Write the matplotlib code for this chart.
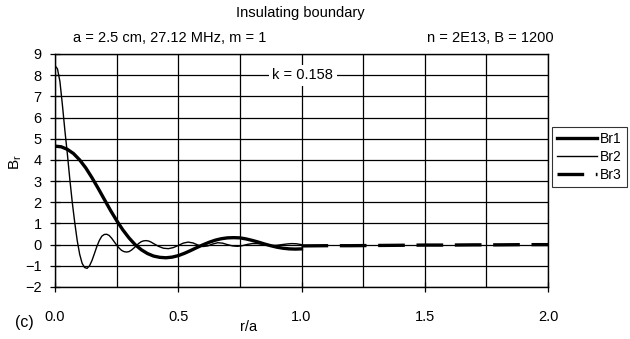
import matplotlib.pyplot as plt
import numpy as np

plt.rcParams['font.family'] = ['Liberation Sans', 'DejaVu Sans']

# Br1 (thick), r/a from 0 to 1
r1 = [0.000, 0.025, 0.050, 0.075, 0.100, 0.125, 0.150, 0.175, 0.200, 0.225,
      0.250, 0.275, 0.300, 0.325, 0.350, 0.375, 0.400, 0.425, 0.450, 0.475,
      0.500, 0.525, 0.550, 0.575, 0.600, 0.625, 0.650, 0.675, 0.700, 0.725,
      0.750, 0.775, 0.800, 0.825, 0.850, 0.875, 0.900, 0.925, 0.950, 0.975,
      1.000]
br1 = [4.65, 4.62, 4.50, 4.30, 4.00, 3.62, 3.16, 2.66, 2.14, 1.62,
       1.14, 0.70, 0.32, 0.00, -0.24, -0.42, -0.54, -0.60, -0.62, -0.59,
       -0.52, -0.41, -0.28, -0.14, -0.01, 0.11, 0.21, 0.28, 0.32, 0.33,
       0.32, 0.27, 0.20, 0.12, 0.03, -0.05, -0.12, -0.17, -0.20, -0.21,
       -0.20]

# Br2 (thin)
r2 = [0.000, 0.010, 0.020, 0.030, 0.040, 0.050, 0.060, 0.070, 0.080, 0.090,
      0.100, 0.110, 0.120, 0.130, 0.140, 0.150, 0.160, 0.170, 0.180, 0.190,
      0.200, 0.210, 0.220, 0.230, 0.240, 0.250, 0.260, 0.270, 0.280, 0.290,
      0.300, 0.310, 0.320, 0.330, 0.340, 0.350, 0.360, 0.370, 0.380, 0.390,
      0.400, 0.420, 0.440, 0.460, 0.480, 0.500, 0.520, 0.540, 0.560, 0.580,
      0.600, 0.620, 0.640, 0.660, 0.680, 0.700, 0.720, 0.740, 0.760, 0.780,
      0.800, 0.820, 0.840, 0.860, 0.880, 0.900, 0.920, 0.940, 0.960, 0.980,
      1.000]
br2 = [8.45, 8.30, 7.70, 6.60, 5.40, 4.30, 3.10, 2.00, 1.05, 0.20,
       -0.45, -0.88, -1.08, -1.12, -1.00, -0.75, -0.42, -0.08, 0.20, 0.40,
       0.48, 0.49, 0.43, 0.30, 0.14, -0.02, -0.16, -0.27, -0.33, -0.35,
       -0.33, -0.26, -0.16, -0.05, 0.06, 0.14, 0.18, 0.19, 0.17, 0.12,
       0.05, -0.08, -0.17, -0.19, -0.14, -0.04, 0.07, 0.12, 0.08, -0.02,
       -0.09, -0.06, 0.03, 0.09, 0.07, 0.00, -0.06, -0.08, -0.05, 0.01,
       0.05, 0.05, 0.02, -0.02, -0.04, -0.03, 0.00, 0.03, 0.05, 0.04,
       0.00]

# Br3 (dashed), outside the plasma
r3 = [1.0, 1.1, 1.2, 1.3, 1.4, 1.5, 1.6, 1.7, 1.8, 1.9, 2.0]
br3 = [-0.06, -0.05, -0.05, -0.04, -0.03, -0.02, -0.02, -0.01, -0.01, 0.00, 0.00]

fig = plt.figure(figsize=(6.3, 3.39), dpi=100)
ax = fig.add_axes([55/630, 1 - 287/339, 493/630, 233/339])

ax.plot(r1, br1, color='black', lw=2.4, label='Br1')
ax.plot(r2, br2, color='black', lw=1.0, label='Br2')
ax.plot(r3, br3, color='black', lw=2.4, dashes=(8, 3.5), label='Br3')

ax.set_xlim(0, 2)
ax.set_ylim(-2, 9)
ax.set_xticks(np.arange(0, 2.01, 0.5))
ax.set_xticks(np.arange(0, 2.01, 0.25), minor=True)
ax.set_yticks(np.arange(-2, 10, 1))
ax.set_xticklabels(['0.0', '0.5', '1.0', '1.5', '2.0'])
ax.grid(True, which='both', color='black', lw=0.9)
ax.tick_params(axis='both', which='major', direction='inout', length=7,
               width=0.9, labelsize=10.5)
ax.tick_params(axis='x', which='major', pad=13)
ax.tick_params(axis='y', which='major', pad=6)
ax.tick_params(axis='x', which='minor', length=0)
for s in ax.spines.values():
    s.set_linewidth(1.0)

ax.text(1.005, 8.0, 'k = 0.158', ha='center', va='center', fontsize=10.5,
        bbox=dict(facecolor='white', edgecolor='none', pad=2.5))

fig.text(300/630, 1 - 13/339, 'Insulating boundary', ha='center', va='center', fontsize=10.5)
fig.text(170/630, 1 - 38/339, 'a = 2.5 cm, 27.12 MHz, m = 1', ha='center', va='center', fontsize=10.5)
fig.text(490/630, 1 - 38/339, 'n = 2E13, B = 1200', ha='center', va='center', fontsize=10.5)
fig.text(249/630, 1 - 327/339, 'r/a', ha='center', va='center', fontsize=10.5)
fig.text(24/630, 1 - 322/339, '(c)', ha='center', va='center', fontsize=11.5)
fig.text(16/630, 1 - 162/339, r'B$_\mathregular{r}$', ha='center', va='center',
         rotation=90, fontsize=11)

leg = fig.legend(loc='upper left', bbox_to_anchor=(552/630, 1 - 127/339),
                 frameon=True, fancybox=False, fontsize=10, handlelength=2.9,
                 handletextpad=0.2, borderpad=0.35, labelspacing=0.3,
                 borderaxespad=0, markerfirst=True)
leg.get_frame().set_edgecolor('black')
leg.get_frame().set_linewidth(0.8)

fig.savefig('out.png', dpi=100)
